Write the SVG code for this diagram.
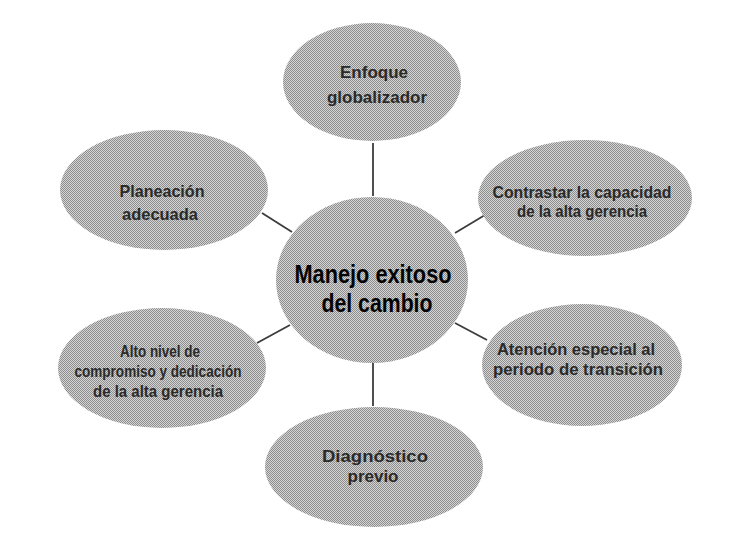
<svg xmlns="http://www.w3.org/2000/svg" width="738" height="534" viewBox="0 0 738 534">
  <defs>
    <pattern id="dots" width="2" height="2" patternUnits="userSpaceOnUse">
      <rect width="2" height="2" fill="#d4d4d4"/>
      <rect x="0" y="0" width="1" height="1" fill="#8e8e8e"/>
      <rect x="1" y="1" width="1" height="1" fill="#8e8e8e"/>
    </pattern>
  </defs>
  <style>
    .node { fill: url(#dots); stroke: none; }
    .lbl { font-family: "Liberation Sans", Arial, sans-serif; font-weight: bold; font-size: 16.5px; fill: #2a2a2a; text-anchor: middle; }
    .main { font-family: "Liberation Sans", Arial, sans-serif; font-weight: bold; font-size: 26px; fill: #050505; text-anchor: middle; }
    .conn line { stroke: #3c3c3c; stroke-width: 1.8; }
  </style>
  <rect width="738" height="534" fill="#ffffff"/>

  <g id="connectors" class="conn">
    <line x1="373" y1="143" x2="373" y2="196"/>
    <line x1="262" y1="213" x2="292" y2="232"/>
    <line x1="455" y1="233" x2="485" y2="215"/>
    <line x1="290" y1="325" x2="257" y2="343"/>
    <line x1="455" y1="323" x2="487" y2="340"/>
    <line x1="373" y1="362" x2="373" y2="406"/>
  </g>

  <g id="center">
    <ellipse class="node" cx="372" cy="280" rx="96" ry="83"/>
    <text class="main" x="373" y="283" textLength="157" lengthAdjust="spacingAndGlyphs">Manejo exitoso</text>
    <text class="main" x="377" y="312" textLength="111" lengthAdjust="spacingAndGlyphs">del cambio</text>
  </g>

  <g id="enfoque">
    <ellipse class="node" cx="372" cy="82" rx="89" ry="59"/>
    <text class="lbl" x="374" y="78" textLength="68" lengthAdjust="spacingAndGlyphs">Enfoque</text>
    <text class="lbl" x="377" y="103" textLength="100" lengthAdjust="spacingAndGlyphs">globalizador</text>
  </g>

  <g id="planeacion">
    <ellipse class="node" cx="164" cy="190" rx="104" ry="60"/>
    <text class="lbl" x="162" y="197" textLength="85" lengthAdjust="spacingAndGlyphs">Planeación</text>
    <text class="lbl" x="160" y="220" textLength="76" lengthAdjust="spacingAndGlyphs">adecuada</text>
  </g>

  <g id="contrastar">
    <ellipse class="node" cx="585" cy="198" rx="107" ry="58"/>
    <text class="lbl" x="582" y="198" textLength="179" lengthAdjust="spacingAndGlyphs">Contrastar la capacidad</text>
    <text class="lbl" x="582" y="217" textLength="130" lengthAdjust="spacingAndGlyphs">de la alta gerencia</text>
  </g>

  <g id="alto-nivel">
    <ellipse class="node" cx="162" cy="368" rx="104" ry="60"/>
    <text class="lbl" x="160" y="357" textLength="80" lengthAdjust="spacingAndGlyphs">Alto nivel de</text>
    <text class="lbl" x="158" y="377" textLength="167" lengthAdjust="spacingAndGlyphs">compromiso y dedicación</text>
    <text class="lbl" x="158" y="397" textLength="130" lengthAdjust="spacingAndGlyphs">de la alta gerencia</text>
  </g>

  <g id="atencion">
    <ellipse class="node" cx="582" cy="365" rx="100" ry="61"/>
    <text class="lbl" x="576" y="355" textLength="158" lengthAdjust="spacingAndGlyphs">Atención especial al</text>
    <text class="lbl" x="578" y="375" textLength="170" lengthAdjust="spacingAndGlyphs">periodo de transición</text>
  </g>

  <g id="diagnostico">
    <ellipse class="node" cx="374" cy="467" rx="109" ry="60"/>
    <text class="lbl" x="375" y="462" textLength="106" lengthAdjust="spacingAndGlyphs">Diagnóstico</text>
    <text class="lbl" x="373" y="482" textLength="51" lengthAdjust="spacingAndGlyphs">previo</text>
  </g>
</svg>
